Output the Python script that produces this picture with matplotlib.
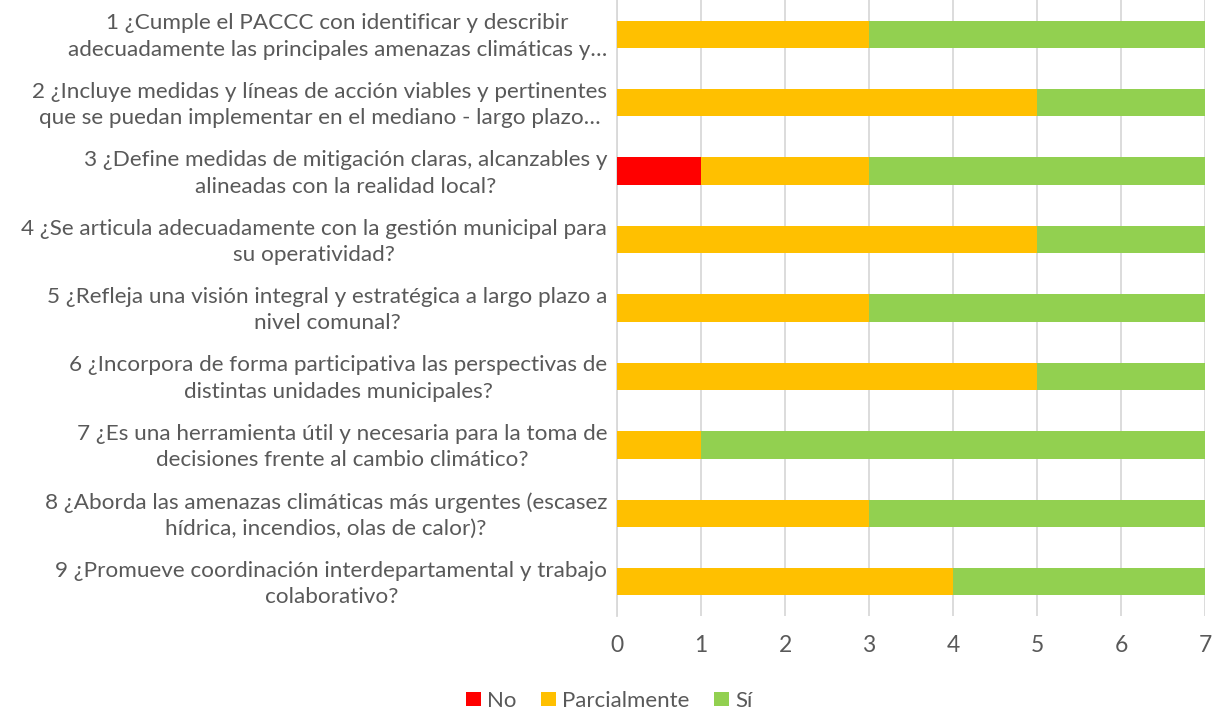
import matplotlib
matplotlib.use("Agg")
import matplotlib.pyplot as plt
import matplotlib.transforms as mtransforms
import numpy as np

plt.rcParams['font.family'] = ['Lato', 'DejaVu Sans']

# survey questions, top to bottom
questions = [
    "1 ¿Cumple el PACCC con identificar y describir\nadecuadamente las principales amenazas climáticas y…",
    "2 ¿Incluye medidas y líneas de acción viables y pertinentes\nque se puedan implementar en el mediano - largo plazo…",
    "3 ¿Define medidas de mitigación claras, alcanzables y\nalineadas con la realidad local?",
    "4 ¿Se articula adecuadamente con la gestión municipal para\nsu operatividad?",
    "5 ¿Refleja una visión integral y estratégica a largo plazo a\nnivel comunal?",
    "6 ¿Incorpora de forma participativa las perspectivas de\ndistintas unidades municipales?",
    "7 ¿Es una herramienta útil y necesaria para la toma de\ndecisiones frente al cambio climático?",
    "8 ¿Aborda las amenazas climáticas más urgentes (escasez\nhídrica, incendios, olas de calor)?",
    "9 ¿Promueve coordinación interdepartamental y trabajo\ncolaborativo?",
]

no = [0, 0, 1, 0, 0, 0, 0, 0, 0]
parcialmente = [3, 5, 2, 5, 3, 5, 1, 3, 4]
si = [4, 2, 4, 2, 4, 2, 6, 4, 3]

series = [("No", no, "#FF0000"),
          ("Parcialmente", parcialmente, "#FFC000"),
          ("Sí", si, "#92D050")]

fig = plt.figure(figsize=(12.19, 7.13), dpi=100)
ax = fig.add_axes([617 / 1219, 97 / 713, 588 / 1219, 616 / 713])

y = np.arange(len(questions))
left = np.zeros(len(questions))
for name, vals, color in series:
    ax.barh(y, vals, left=left, height=0.4, color=color, label=name, zorder=3)
    left += np.array(vals)

ax.set_ylim(len(questions) - 0.5, -0.5)
ax.set_xlim(0, 7)
ax.set_xticks(range(8))
ax.set_yticks(y)
ax.set_yticklabels(questions, multialignment="center", fontsize=16.2,
                   color="#595959", linespacing=1.4)
ax.tick_params(axis="x", length=0, pad=14, labelsize=16.5, labelcolor="#595959")
ax.tick_params(axis="y", length=0, pad=7)

# nudge the two-line labels up so they sit centred on the bars
shift = mtransforms.ScaledTranslation(0, 3 / 100, fig.dpi_scale_trans)
for lbl in ax.get_yticklabels():
    lbl.set_transform(lbl.get_transform() + shift)

ax.grid(axis="x", color="#D9D9D9", linewidth=1.3, zorder=0)
for s in ["top", "right", "bottom"]:
    ax.spines[s].set_visible(False)
ax.spines["left"].set_color("#D9D9D9")
ax.spines["left"].set_linewidth(1.3)

fig.legend(loc="lower center", bbox_to_anchor=(0.5, -0.025), ncol=3,
           frameon=False, fontsize=16, labelcolor="#595959",
           handlelength=0.65, handleheight=0.65, handletextpad=0.3,
           columnspacing=1.1)

fig.savefig("out.png", dpi=100)
